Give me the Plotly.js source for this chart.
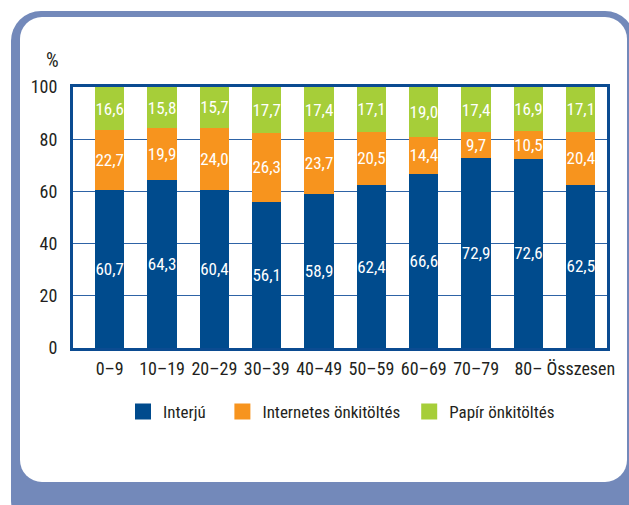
<!DOCTYPE html>
<html>
<head>
<meta charset="utf-8">
<script src="https://cdn.plot.ly/plotly-3.0.1.min.js"></script>
<style>
  html, body { margin: 0; padding: 0; width: 629px; height: 505px; overflow: hidden; background: #ffffff; }
  #outer { position: absolute; left: 11px; top: 11px; width: 624px; height: 520px; background: #7389BA; border-radius: 30px; }
  #inner { position: absolute; left: 20px; top: 17px; width: 607px; height: 465px; background: #ffffff; border-radius: 22px; }
  #chart { position: absolute; left: 0; top: 0; width: 629px; height: 505px; }
</style>
</head>
<body>
<div id="outer"></div>
<div id="inner"></div>
<div id="chart"></div>
<script>
const categories = ["0–9", "10–19", "20–29", "30–39", "40–49", "50–59", "60–69", "70–79", "80–", "Összesen"];
const interju = [60.7, 64.3, 60.4, 56.1, 58.9, 62.4, 66.6, 72.9, 72.6, 62.5];
const internetes = [22.7, 19.9, 24.0, 26.3, 23.7, 20.5, 14.4, 9.7, 10.5, 20.4];
const papir = [16.6, 15.8, 15.7, 17.7, 17.4, 17.1, 19.0, 17.4, 16.9, 17.1];
const seriesNames = ["Interjú", "Internetes önkitöltés", "Papír önkitöltés"];
const yTicks = [0, 20, 40, 60, 80, 100];

const FONT = '"Roboto Condensed", "DejaVu Sans Condensed", sans-serif';
const colors = ["#004B8D", "#F7941E", "#A6CE39"];
const seriesData = [interju, internetes, papir];
const legendPad = ["\u00A0\u00A0\u00A0", "\u00A0", ""];

const traces = seriesData.map((vals, i) => ({
  type: 'bar',
  x: categories,
  y: vals,
  name: seriesNames[i],
  marker: { color: colors[i], line: { width: 0 } },
  texttemplate: '%{y:.1f}',
  textposition: 'inside',
  insidetextanchor: 'middle',
  textangle: 0,
  constraintext: 'none',
  textfont: { family: FONT, size: 17, color: '#ffffff' },
  showlegend: false,
  hoverinfo: 'skip'
}));

seriesNames.forEach((n, i) => {
  traces.push({
    type: 'scatter', mode: 'markers',
    x: [categories[0]], y: [null],
    name: n + legendPad[i],
    marker: { symbol: 'square', size: 16, color: colors[i] },
    showlegend: true,
    hoverinfo: 'skip'
  });
});

const layout = {
  width: 629, height: 505,
  margin: { l: 73, r: 22, t: 87, b: 157 },
  paper_bgcolor: 'rgba(0,0,0,0)',
  plot_bgcolor: '#ffffff',
  barmode: 'stack',
  bargap: 0.44,
  separators: ', ',
  font: { family: FONT, color: '#231F20', size: 17 },
  xaxis: {
    type: 'category', automargin: false,
    showline: true, mirror: true, linecolor: '#0B4B91', linewidth: 3,
    showgrid: false, ticks: '',
    tickfont: { family: FONT, size: 18, color: '#231F20' },
    ticklabelstandoff: 2
  },
  yaxis: {
    range: [0, 100], automargin: false,
    tickvals: yTicks,
    ticktext: yTicks.map(String),
    showline: true, mirror: true, linecolor: '#0B4B91', linewidth: 3,
    showgrid: true, gridcolor: '#2E63A6', gridwidth: 1.2,
    zeroline: false, ticks: '',
    tickfont: { family: FONT, size: 18, color: '#231F20' },
    ticklabelstandoff: 9
  },
  legend: {
    orientation: 'h',
    traceorder: 'normal',
    x: 0.0936, xanchor: 'left',
    y: -0.245, yanchor: 'middle',
    font: { family: FONT, size: 17, color: '#231F20' },
    bgcolor: 'rgba(0,0,0,0)',
    itemclick: false, itemdoubleclick: false
  },
  annotations: [{
    text: '%', xref: 'paper', yref: 'paper',
    x: -0.039, y: 1.05, xanchor: 'center', yanchor: 'bottom',
    showarrow: false, font: { family: FONT, size: 20, color: '#231F20' }
  }]
};

Plotly.newPlot('chart', traces, layout, { displayModeBar: false, staticPlot: true });
</script>
</body>
</html>
